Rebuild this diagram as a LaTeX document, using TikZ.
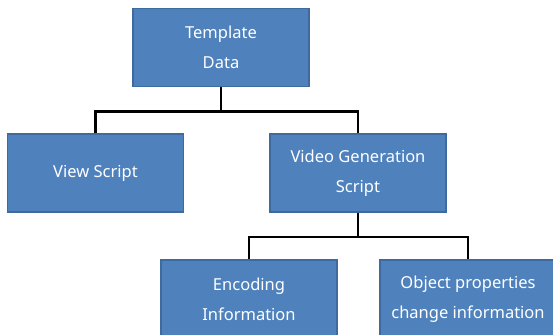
\documentclass[tikz,border=0pt]{standalone}
\usepackage{fontspec}
\setmainfont{Noto Sans}
\usepackage{tikz}

\definecolor{boxblue}{HTML}{4F81BD}
\definecolor{boxedge}{HTML}{3E6A9E}

\begin{document}
\begin{tikzpicture}[x=1pt,y=-1pt]
                \tikzstyle{block}=[rectangle, draw=boxedge, fill=boxblue, line width=1.2pt, minimum width=176pt, minimum height=78pt, inner sep=0pt, text=white, align=center, font={\fontsize{16.5}{30}\selectfont}]
                \tikzstyle{edge} = [draw, line width=2.6pt, black, -]

                \useasboundingbox (0,0) rectangle (553,334);
                \clip (0,0) rectangle (553,334);

                \node[block] (tpl) at (221,47.5) {Template\\Data};
                \node[block] (view) at (95.5,173) {View Script};
                \node[block] (vgen) at (358,173) {Video Generation\\Script};
                \node[block] (enc) at (249,299) {Encoding\\Information};
                \node[block] (obj) at (468,299) {Object properties\\change information};

                \foreach \source/ \dest in {tpl/view, tpl/vgen, vgen/enc, vgen/obj}
                \path[edge] (\source.south) -- ++(0,24.5) -| (\dest.north);
            \end{tikzpicture}
\end{document}
